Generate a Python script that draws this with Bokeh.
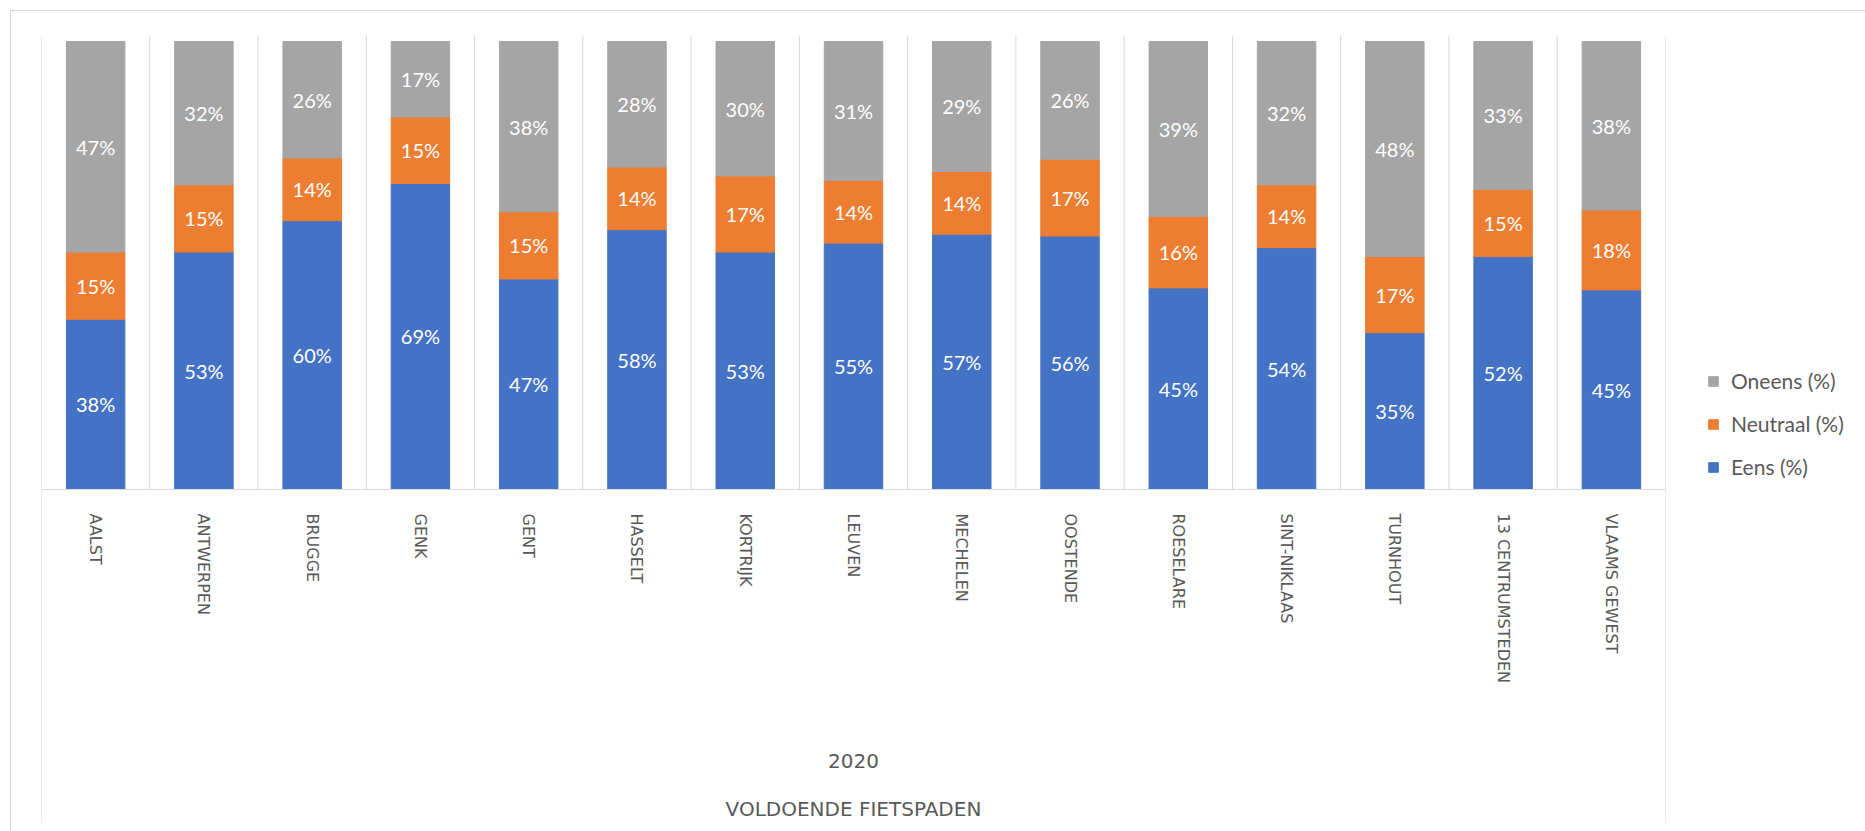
from bokeh.plotting import figure
from bokeh.models import (ColumnDataSource, FactorRange, Range1d, Span, LinearAxis,
                          FixedTicker, Legend, LegendItem)
from bokeh.core.properties import value
from bokeh.embed import file_html
from bokeh.resources import INLINE

# ---------------- data ----------------
cities = ["AALST", "ANTWERPEN", "BRUGGE", "GENK", "GENT", "HASSELT", "KORTRIJK",
          "LEUVEN", "MECHELEN", "OOSTENDE", "ROESELARE", "SINT-NIKLAAS", "TURNHOUT",
          "13 CENTRUMSTEDEN", "VLAAMS GEWEST"]
eens = [38, 53, 60, 69, 47, 58, 53, 55, 57, 56, 45, 54, 35, 52, 45]
neutraal = [15, 15, 14, 15, 15, 14, 17, 14, 14, 17, 16, 14, 17, 15, 18]
oneens = [47, 32, 26, 17, 38, 28, 30, 31, 29, 26, 39, 32, 48, 33, 38]
series_names = ["Eens (%)", "Neutraal (%)", "Oneens (%)"]
colors = ["#4472C4", "#ED7D31", "#A5A5A5"]
year_label = "2020"
question_label = "VOLDOENDE FIETSPADEN"

# ---------------- 100% stacked shares ----------------
series = [eens, neutraal, oneens]
totals = [sum(t) for t in zip(*series)]
shares = [[v / t * 100 for v, t in zip(s, totals)] for s in series]
keys = ["eens", "neutraal", "oneens"]
src = ColumnDataSource(dict(city=cities, **{k: s for k, s in zip(keys, shares)}))

lab_x, lab_y, lab_t = [], [], []
bottoms = [0.0] * len(cities)
for s_raw, s_share in zip(series, shares):
    for i, c in enumerate(cities):
        lab_x.append(c)
        lab_y.append(bottoms[i] + s_share[i] / 2)
        lab_t.append(f"{s_raw[i]}%")
        bottoms[i] += s_share[i]
lab_src = ColumnDataSource(dict(x=lab_x, y=lab_y, t=lab_t))

GREY = "#d9d9d9"
TXT = "#595959"

# ---------------- figure ----------------
# plot frame runs from the top of the bars down through the category-label area,
# so that the plot-area edge lines can extend to the bottom like in the original
PX_PER_UNIT = 4.48
FRAME_W, FRAME_H = 1624, 788
Y_TOP = 454 / PX_PER_UNIT
Y_BOTTOM = -(FRAME_H - 454) / PX_PER_UNIT
n = len(cities)
p = figure(x_range=FactorRange(*cities), y_range=Range1d(Y_BOTTOM, Y_TOP),
           frame_width=FRAME_W, frame_height=FRAME_H,
           min_border_left=30, min_border_top=24, min_border_right=200,
           min_border_bottom=8, output_backend="svg", toolbar_location=None,
           x_axis_location=None, y_axis_location=None,
           background_fill_color="white", border_fill_color="white")
p.outline_line_color = None
p.grid.visible = False
p.margin = (10, 0, 0, 10)
p.styles = {"border-top": "1px solid #d9d9d9", "border-left": "1px solid #d9d9d9"}

rs = p.vbar_stack(keys, x="city", width=0.54, color=colors, source=src)

p.text(x="x", y="y", text="t", source=lab_src, text_color="white",
       text_font=value("Lato"), text_font_size="20px",
       text_align="center", text_baseline="middle")

# category separators inside the plot area
inner = list(range(1, n))
p.segment(x0=inner, y0=[0] * len(inner), x1=inner, y1=[Y_TOP] * len(inner),
          line_color=GREY, line_width=1)
# plot-area edges, running down through the label area
for xe in (0, n):
    p.add_layout(Span(location=xe, dimension="height", line_color=GREY, line_width=1))

# category axis drawn at the baseline (y = 0)
centers = [i + 0.5 for i in range(n)]
ax = LinearAxis(ticker=FixedTicker(ticks=centers), fixed_location=0,
                major_label_overrides={c: name for c, name in zip(centers, cities)})
ax.major_label_orientation = "vertical"
ax.major_label_text_font = "DejaVu Sans"
ax.major_label_text_font_size = "16px"
ax.major_label_text_color = TXT
ax.major_tick_line_color = None
ax.major_tick_out = 0
ax.major_tick_in = 0
ax.minor_tick_line_color = None
ax.major_label_standoff = 24
ax.axis_line_color = GREY
ax.axis_label = year_label
ax.axis_label_text_font = "DejaVu Sans"
ax.axis_label_text_font_style = "normal"
ax.axis_label_text_font_size = "20px"
ax.axis_label_text_color = TXT
ax.axis_label_standoff = 68
p.add_layout(ax, "below")

# outer category level (question label)
ax2 = LinearAxis(ticker=FixedTicker(ticks=[]), fixed_location=0)
ax2.axis_line_color = None
ax2.major_tick_line_color = None
ax2.minor_tick_line_color = None
ax2.major_tick_out = 0
ax2.major_tick_in = 0
ax2.axis_label = question_label
ax2.axis_label_text_font = "DejaVu Sans"
ax2.axis_label_text_font_style = "normal"
ax2.axis_label_text_font_size = "20px"
ax2.axis_label_text_color = TXT
ax2.axis_label_standoff = 307
p.add_layout(ax2, "below")

# legend in the right-hand margin
items = [LegendItem(label=series_names[i], renderers=[rs[i]]) for i in (2, 1, 0)]
legend = Legend(items=items, location=(42, 344), orientation="vertical",
                background_fill_alpha=0, border_line_color=None, padding=0, margin=0,
                spacing=18, label_height=25, glyph_height=12, glyph_width=12,
                label_standoff=12, label_text_font="Lato", label_text_font_size="21px",
                label_text_color=TXT)
p.add_layout(legend, "right")

open("out.html", "w").write(file_html(p, INLINE))
